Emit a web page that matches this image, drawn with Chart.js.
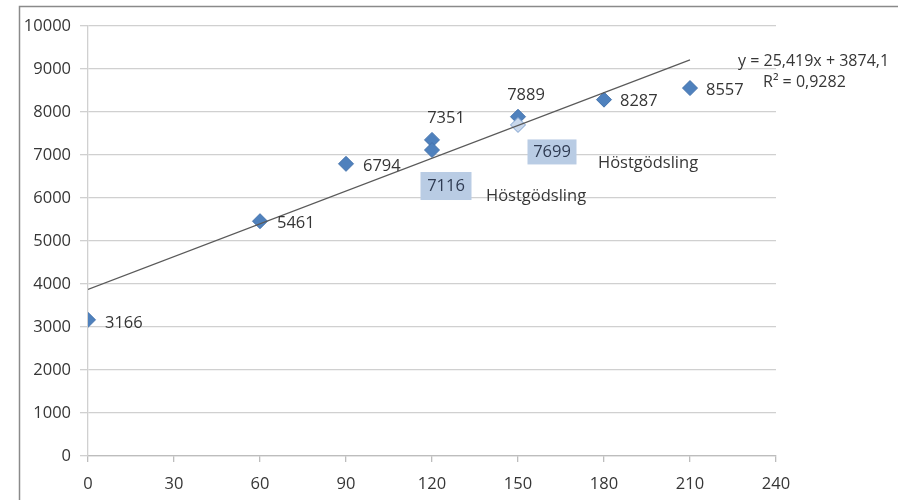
<!DOCTYPE html>
<html>
<head>
<meta charset="utf-8">
<title>Skörd och kvävegiva</title>
<script src="https://cdn.jsdelivr.net/npm/chart.js@4/dist/chart.umd.min.js"></script>
<style>
  html, body { margin: 0; padding: 0; background: #ffffff; }
  #wrap { width: 898px; height: 500px; }
</style>
</head>
<body>
<div id="wrap"><canvas id="c" width="898" height="500"></canvas></div>
<script>
// Kvävegiva (kg N/ha) och skörd (kg/ha)
const doses  = [0, 60, 90, 120, 120, 150, 150, 180, 210];
const yields = [3166, 5461, 6794, 7351, 7116, 7889, 7699, 8287, 8557];
// Led som gödslats på hösten
const autumn = [false, false, false, false, true, false, true, false, false];
const autumnText = 'Höstgödsling';

// Linjär trend, som i ekvationen
const slope = 25.419;
const intercept = 3874.1;
const trendFrom = 0;
const trendTo = 210;
const equationText = 'y = 25,419x + 3874,1';
const r2Text = 'R² = 0,9282';

const xTicks = [0, 30, 60, 90, 120, 150, 180, 210, 240];
const yTicks = [0, 1000, 2000, 3000, 4000, 5000, 6000, 7000, 8000, 9000, 10000];

// Placering av etiketter relativt punkten (pixlar)
const labelPlace = [
  { mode: 'right', dx: 17, dy: 3 },
  { mode: 'right', dx: 17, dy: 2 },
  { mode: 'right', dx: 17, dy: 2 },
  { mode: 'above', dx: 14, dy: -22 },
  { mode: 'box', dx: 14, dy: 36, w: 51, h: 28, tx: 54, ty: 46 },
  { mode: 'above', dx: 8, dy: -21 },
  { mode: 'box', dx: 34, dy: 27, w: 49, h: 25, tx: 80, ty: 38 },
  { mode: 'right', dx: 16, dy: 2 },
  { mode: 'right', dx: 16, dy: 2 }
];

const FONT = '"Open Sans", "Liberation Sans", sans-serif';
const TEXT = '#363636';
const BLUE = '#4f81bd';

const points = doses.map((d, i) => ({ x: d, y: yields[i] }));
const trend = [trendFrom, trendTo].map(x => ({ x: x, y: slope * x + intercept }));

const framePlugin = {
  id: 'frame',
  beforeDraw(chart) {
    const ctx = chart.ctx;
    ctx.save();
    ctx.fillStyle = '#ffffff';
    ctx.fillRect(0, 0, chart.width, chart.height);
    ctx.strokeStyle = '#8a8a8a';
    ctx.lineWidth = 1.5;
    ctx.beginPath();
    ctx.moveTo(19.5, chart.height);
    ctx.lineTo(19.5, 6.5);
    ctx.lineTo(chart.width, 6.5);
    ctx.stroke();
    ctx.restore();
  }
};

const labelPlugin = {
  id: 'pointLabels',
  afterDatasetsDraw(chart) {
    const ctx = chart.ctx;
    const meta = chart.getDatasetMeta(1);
    ctx.save();
    ctx.font = '16.5px ' + FONT;
    ctx.textBaseline = 'middle';
    meta.data.forEach((el, i) => {
      const p = labelPlace[i];
      const txt = String(yields[i]);
      const x = el.x, y = el.y;
      if (p.mode === 'right') {
        ctx.textAlign = 'left';
        ctx.fillStyle = TEXT;
        ctx.fillText(txt, x + p.dx, y + p.dy);
      } else if (p.mode === 'above') {
        ctx.textAlign = 'center';
        ctx.fillStyle = TEXT;
        ctx.fillText(txt, x + p.dx, y + p.dy);
      } else {
        const cx = x + p.dx, cy = y + p.dy;
        ctx.fillStyle = '#b9cce4';
        ctx.fillRect(cx - p.w / 2, cy - p.h / 2, p.w, p.h);
        ctx.textAlign = 'center';
        ctx.fillStyle = '#2f3b52';
        ctx.fillText(txt, cx, cy);
        if (autumn[i]) {
          ctx.textAlign = 'left';
          ctx.fillStyle = TEXT;
          ctx.fillText(autumnText, x + p.tx, y + p.ty);
        }
      }
    });
    // Trendlinjens ekvation
    const tm = chart.getDatasetMeta(0).data[1];
    ctx.textAlign = 'left';
    ctx.fillStyle = TEXT;
    ctx.font = '16px ' + FONT;
    ctx.fillText(equationText, tm.x + 48, tm.y + 2);
    ctx.fillText(r2Text, tm.x + 73, tm.y + 23);
    ctx.restore();
  }
};

new Chart(document.getElementById('c'), {
  type: 'scatter',
  data: {
    datasets: [
      {
        type: 'line',
        label: 'Linjär trend',
        data: trend,
        borderColor: '#5a5a5a',
        borderWidth: 1.2,
        pointRadius: 0,
        fill: false,
        tension: 0,
        order: 0
      },
      {
        label: 'Skörd',
        data: points,
        pointStyle: 'rectRot',
        pointRadius: 7.5,
        pointHoverRadius: 7.5,
        pointBackgroundColor: doses.map((d, i) => (autumn[i] && i === 6) ? '#c9d8ec' : BLUE),
        pointBorderColor: doses.map((d, i) => (autumn[i] && i === 6) ? '#7ea1cf' : '#4573ad'),
        pointBorderWidth: 1,
        order: 1
      }
    ]
  },
  options: {
    responsive: false,
    devicePixelRatio: 1,
    animation: false,
    layout: { padding: { left: 0, top: 26, right: 122, bottom: 0 } },
    plugins: {
      legend: { display: false },
      tooltip: { enabled: false }
    },
    scales: {
      x: {
        type: 'linear',
        min: 0,
        max: 240,
        afterBuildTicks(scale) { scale.ticks = xTicks.map(v => ({ value: v })); },
        afterFit(scale) { scale.height = 44; },
        grid: {
          drawOnChartArea: false,
          drawTicks: true,
          tickLength: 6,
          color: '#bdbdbd',
          lineWidth: 1.3
        },
        border: { display: true, color: '#bdbdbd', width: 1.3 },
        ticks: {
          padding: 12,
          color: TEXT,
          font: { family: FONT, size: 16.5 },
          maxRotation: 0
        }
      },
      y: {
        type: 'linear',
        min: 0,
        max: 10000,
        afterBuildTicks(scale) { scale.ticks = yTicks.map(v => ({ value: v })); },
        afterFit(scale) { scale.width = 88; },
        grid: {
          drawOnChartArea: true,
          drawTicks: true,
          tickLength: 8,
          color: '#d0d0d0',
          lineWidth: 1.3
        },
        border: { display: true, color: '#d0d0d0', width: 1.3 },
        ticks: {
          padding: 9,
          color: TEXT,
          font: { family: FONT, size: 16.5 },
          callback: v => String(v)
        }
      }
    }
  },
  plugins: [framePlugin, labelPlugin]
});
</script>
</body>
</html>
